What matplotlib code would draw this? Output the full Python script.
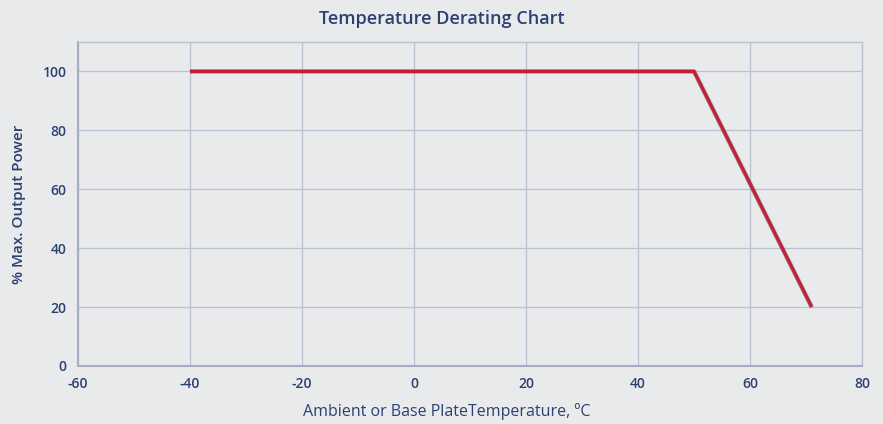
import matplotlib
matplotlib.use("Agg")
import matplotlib.pyplot as plt
import matplotlib.patheffects as pe

temps = [-40, 50, 71]
power = [100, 100, 20]
xticks = [-60, -40, -20, 0, 20, 40, 60, 80]
yticks = [0, 20, 40, 60, 80, 100]

bg = "#e9eaec"
txt = "#2b4170"
grid = "#b9c2d0"

plt.rcParams['font.family'] = ['Open Sans', 'DejaVu Sans']
plt.rcParams['axes.unicode_minus'] = False
fig = plt.figure(figsize=(8.83, 4.24), dpi=100, facecolor=bg)
ax = fig.add_axes([0.0883, 0.137, 0.888, 0.764], facecolor=bg)
ax.plot(temps, power, color="#c21f3a", lw=2.3, solid_capstyle="butt",
        path_effects=[pe.Stroke(linewidth=3.3, foreground="#5a3a44", alpha=0.45), pe.Normal()], zorder=3)
ax.set_xlim(-60, 80)
ax.set_ylim(0, 110)
ax.set_xticks(xticks)
ax.set_yticks(yticks)
ax.grid(True, color=grid, lw=0.9)
for s in ax.spines.values():
    s.set_color(grid)
    s.set_linewidth(1.0)
ax.spines['left'].set_color("#a4aec0")
ax.spines['bottom'].set_color("#a4aec0")
ax.spines['left'].set_linewidth(1.5)
ax.spines['bottom'].set_linewidth(1.5)
ax.tick_params(length=0, colors=txt, labelsize=10, pad=8)
for lab in ax.get_xticklabels() + ax.get_yticklabels():
    lab.set_fontweight("semibold")
ax.set_title("Temperature Derating Chart", color=txt, fontsize=13, fontweight="semibold", pad=13, x=0.464)
ax.set_xlabel("Ambient or Base PlateTemperature, ºC", color=txt, fontsize=11.5, fontweight="medium", labelpad=8)
ax.xaxis.set_label_coords(0.47, -0.115)
ax.set_ylabel("% Max. Output Power", color=txt, fontsize=11, fontweight="semibold", labelpad=12)
fig.savefig("out.png", dpi=100, facecolor=bg)
